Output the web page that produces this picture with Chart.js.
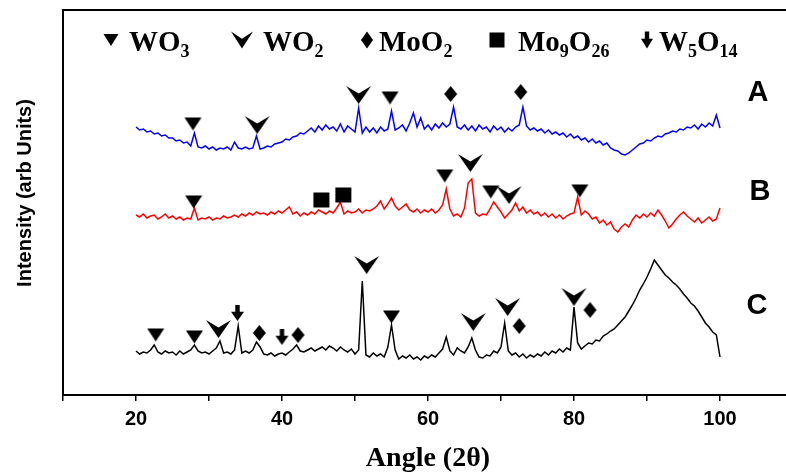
<!DOCTYPE html>
<html>
<head>
<meta charset="utf-8">
<script src="https://cdn.jsdelivr.net/npm/chart.js@4.4.1/dist/chart.umd.min.js"></script>
<style>
  html, body { margin: 0; padding: 0; background: #fff; overflow: hidden; }
  #wrap { width: 800px; height: 476px; }
</style>
</head>
<body>
<div id="wrap"><canvas id="xrd" width="800" height="476"></canvas></div>
<script>
// 2θ scan, 20..100 deg, 0.5 deg step
const angle = Array.from({ length: 161 }, (_, i) => 20 + i * 0.5);

// intensity (arb units), traces stacked A / B / C
const intensityA = [
  268, 265, 266, 263, 264, 261, 262, 259, 260, 257,
  257, 254, 255, 252, 253, 249, 262, 248, 247, 249,
  246, 248, 245, 247, 246, 248, 245, 253, 247, 246,
  248, 246, 247, 259, 246, 247, 249, 248, 251, 252,
  253, 256, 255, 258, 259, 262, 261, 264, 267, 263,
  269, 265, 270, 266, 268, 264, 271, 263, 269, 266,
  263, 287, 262, 268, 263, 267, 262, 268, 264, 266,
  284, 265, 267, 270, 264, 272, 282, 268, 277, 266,
  270, 265, 271, 267, 272, 268, 271, 288, 268, 266,
  270, 265, 269, 264, 270, 266, 268, 263, 269, 265,
  268, 263, 267, 264, 268, 270, 288, 269, 265, 267,
  264, 266, 262, 265, 261, 263, 260, 262, 258, 261,
  257, 259, 255, 257, 253, 256, 252, 254, 250, 252,
  247, 245, 244, 241, 240, 242, 245, 248, 251, 252,
  255, 254, 257, 259, 258, 261, 262, 264, 263, 266,
  265, 268, 267, 270, 266, 271, 268, 272, 269, 280,
  267
];
const intensityB = [
  180, 178, 181, 177, 179, 180, 176, 178, 181, 177,
  179, 176, 178, 175, 177, 176, 187, 175, 177, 176,
  178, 175, 177, 176, 179, 177, 178, 180, 178, 181,
  179, 182, 180, 183, 181, 182, 180, 183, 181, 184,
  182, 185, 188, 181, 183, 179, 182, 180, 183, 181,
  185, 183, 181, 184, 182, 187, 193, 181, 184, 182,
  183, 186, 182, 185, 184, 186, 189, 194, 186, 191,
  197, 189, 185, 188, 191, 185, 183, 186, 182, 185,
  183, 186, 182, 185, 190, 206, 186, 179, 181, 178,
  187, 212, 216, 182, 179, 181, 180, 186, 193, 188,
  183, 177, 181, 185, 192, 184, 188, 182, 185, 181,
  183, 179, 182, 178, 181, 177, 180, 176, 179, 181,
  182, 198, 180, 184, 181, 176, 178, 172, 175, 170,
  173, 166, 163, 168, 171, 168, 175, 180, 177, 181,
  178, 182, 179, 185, 180, 174, 167, 171, 176, 180,
  183, 179, 176, 173, 177, 172, 175, 178, 174, 176,
  187
];
const intensityC = [
  44, 41, 43, 42, 45, 50, 43, 41, 44, 42,
  43, 40, 44, 41, 43, 45, 50, 44, 42, 43,
  41, 44, 47, 54, 42, 43, 41, 45, 69, 42,
  44, 42, 45, 53, 48, 41, 40, 42, 39, 41,
  42, 40, 43, 46, 50, 44, 43, 45, 47, 44,
  46, 48, 45, 49, 47, 44, 48, 45, 43, 46,
  41, 45, 114, 40, 38, 42, 39, 41, 38, 48,
  70, 45, 36, 39, 37, 40, 36, 38, 35, 39,
  37, 40, 38, 42, 46, 58, 44, 40, 47, 44,
  42, 48, 57, 45, 38, 37, 40, 39, 44, 42,
  48, 72, 44, 40, 42, 38, 41, 37, 40, 38,
  41, 39, 43, 40, 44, 42, 46, 43, 47, 45,
  88, 52, 46, 49, 52, 51, 55, 54, 59, 61,
  64, 66, 70, 74, 78, 84, 90, 97, 105, 111,
  118, 126, 135, 130, 125, 120, 117, 113, 110, 106,
  101, 97, 92, 89, 84, 78, 72, 68, 63, 60,
  38
];

// phase markers: angle / height above the trace
const wo3Angle = [27.8, 54.8, 27.9, 62.3, 68.6, 80.8, 22.7, 28.0, 55.0];
const wo3Height = [271, 297, 193, 219, 203, 204, 60, 58, 78];
const wo2Angle = [36.6, 50.5, 65.8, 71.1, 31.3, 51.6, 66.2, 70.9, 80.0];
const wo2Height = [270, 300, 232, 200, 66, 130, 73, 88, 98];
const moo2Angle = [63.1, 72.7, 36.9, 42.2, 72.5, 82.2];
const moo2Height = [301, 303, 62, 60, 69, 85];
const mo9o26Angle = [45.4, 48.4];
const mo9o26Height = [195, 200];
const w5o14Angle = [33.9, 40.0];
const w5o14Height = [82, 58];

const sampleNames = ['A', 'B', 'C'];
const xTickLabels = [20, 40, 60, 80, 100];

// marker shapes
function shapeTri(g, cx, cy, w, h) {
  g.beginPath();
  g.moveTo(cx - w / 2, cy - h / 2);
  g.lineTo(cx + w / 2, cy - h / 2);
  g.lineTo(cx, cy + h / 2);
  g.closePath();
  g.fill();
}
function shapeChevron(g, cx, cy, w, h) {
  g.beginPath();
  g.moveTo(cx - w / 2, cy - h / 2);
  g.lineTo(cx, cy - h / 2 + h * 0.42);
  g.lineTo(cx + w / 2, cy - h / 2);
  g.lineTo(cx, cy + h / 2);
  g.closePath();
  g.fill();
}
function shapeDiamond(g, cx, cy, w, h) {
  g.beginPath();
  g.moveTo(cx, cy - h / 2);
  g.lineTo(cx + w / 2, cy);
  g.lineTo(cx, cy + h / 2);
  g.lineTo(cx - w / 2, cy);
  g.closePath();
  g.fill();
}
function shapeSquare(g, cx, cy, w, h) {
  g.fillRect(cx - w / 2, cy - h / 2, w, h);
}
function shapeArrow(g, cx, cy, w, h) {
  const top = cy - h / 2;
  g.fillRect(cx - 2.2, top, 4.4, h * 0.5);
  g.beginPath();
  g.moveTo(cx - w / 2, top + h * 0.42);
  g.lineTo(cx + w / 2, top + h * 0.42);
  g.lineTo(cx, top + h);
  g.closePath();
  g.fill();
}

function markerCanvas(w, h, shape) {
  const c = document.createElement('canvas');
  c.width = w + 2;
  c.height = h + 2;
  const g = c.getContext('2d');
  g.fillStyle = '#000';
  shape(g, c.width / 2, c.height / 2, w, h);
  return c;
}

const imgTri = markerCanvas(17, 13, shapeTri);
const imgChevron = markerCanvas(25, 18, shapeChevron);
const imgDiamond = markerCanvas(13, 16, shapeDiamond);
const imgSquare = markerCanvas(16, 15, shapeSquare);
const imgArrow = markerCanvas(13, 16, shapeArrow);

const pts = (xs, ys) => xs.map((x, i) => ({ x: x, y: ys[i] }));

function trace(label, ys, color) {
  return {
    type: 'line',
    label: label,
    data: pts(angle, ys),
    borderColor: color,
    borderWidth: 1.5,
    pointRadius: 0,
    fill: false,
    tension: 0
  };
}

function markers(label, xs, ys, img) {
  return {
    type: 'scatter',
    label: label,
    data: pts(xs, ys),
    pointStyle: img,
    pointRadius: 6,
    pointHoverRadius: 6
  };
}

const legendItems = [
  { shape: shapeTri, w: 15, h: 12, cx: 111, tx: 129, parts: [['WO', 0], ['3', 1]] },
  { shape: shapeChevron, w: 22, h: 17, cx: 242, tx: 263, parts: [['WO', 0], ['2', 1]] },
  { shape: shapeDiamond, w: 12, h: 17, cx: 367, tx: 379, parts: [['MoO', 0], ['2', 1]] },
  { shape: shapeSquare, w: 15, h: 15, cx: 497, tx: 518, parts: [['Mo', 0], ['9', 1], ['O', 0], ['26', 1]] },
  { shape: shapeArrow, w: 12, h: 17, cx: 647, tx: 659, parts: [['W', 0], ['5', 1], ['O', 0], ['14', 1]] }
];
const sampleLabelPos = [[758, 93], [760, 192], [757, 306]];

// frame, legend row, y title and sample letters
const decorPlugin = {
  id: 'decor',
  afterDraw(chart) {
    const { ctx, chartArea: a } = chart;
    ctx.save();
    ctx.strokeStyle = '#000';
    ctx.lineWidth = 2;
    ctx.beginPath();
    ctx.moveTo(a.right, a.top);
    ctx.lineTo(a.left, a.top);
    ctx.lineTo(a.left, a.bottom);
    ctx.lineTo(a.right, a.bottom);
    ctx.stroke();

    ctx.fillStyle = '#000';
    ctx.textBaseline = 'alphabetic';
    ctx.textAlign = 'left';
    const base = 51;
    legendItems.forEach(it => {
      it.shape(ctx, it.cx, 40, it.w, it.h);
      let x = it.tx;
      it.parts.forEach(([txt, sub]) => {
        ctx.font = sub ? 'bold 18px "Liberation Serif", "Times New Roman", serif'
                       : 'bold 29px "Liberation Serif", "Times New Roman", serif';
        ctx.fillText(txt, x, sub ? base + 6 : base);
        x += ctx.measureText(txt).width;
      });
    });

    ctx.font = 'bold 20px "Liberation Sans", Arial, sans-serif';
    ctx.textAlign = 'center';
    ctx.textBaseline = 'middle';
    ctx.save();
    ctx.translate(25, 193);
    ctx.rotate(-Math.PI / 2);
    ctx.fillText('Intensity (arb Units)', 0, 0);
    ctx.restore();

    ctx.font = 'bold 29px "Liberation Sans", Arial, sans-serif';
    sampleNames.forEach((s, i) => {
      ctx.fillText(s, sampleLabelPos[i][0], sampleLabelPos[i][1]);
    });
    ctx.restore();
  }
};

new Chart(document.getElementById('xrd'), {
  data: {
    datasets: [
      markers('WO3', wo3Angle, wo3Height, imgTri),
      markers('WO2', wo2Angle, wo2Height, imgChevron),
      markers('MoO2', moo2Angle, moo2Height, imgDiamond),
      markers('Mo9O26', mo9o26Angle, mo9o26Height, imgSquare),
      markers('W5O14', w5o14Angle, w5o14Height, imgArrow),
      trace('A', intensityA, '#0000ff'),
      trace('B', intensityB, '#ff0000'),
      trace('C', intensityC, '#000000')
    ]
  },
  options: {
    responsive: false,
    animation: false,
    layout: { padding: { top: 10, right: 3, left: 0, bottom: 0 } },
    plugins: {
      legend: { display: false },
      tooltip: { enabled: false }
    },
    scales: {
      x: {
        type: 'linear',
        min: 10,
        max: 110,
        ticks: {
          stepSize: 10,
          autoSkip: false,
          maxRotation: 0,
          padding: 6,
          color: '#000',
          font: { family: '"Liberation Sans", Arial, sans-serif', size: 20, weight: 'bold' },
          callback: v => xTickLabels.includes(v) ? String(v) : ''
        },
        grid: {
          display: true,
          drawOnChartArea: false,
          drawTicks: true,
          tickLength: 6,
          color: '#000',
          lineWidth: 1.5
        },
        border: { display: false },
        title: {
          display: true,
          text: 'Angle (2θ)',
          color: '#000',
          font: { family: '"Liberation Serif", "Times New Roman", serif', size: 28, weight: 'bold' },
          padding: { top: 0, bottom: 0 }
        },
        afterFit: s => { s.height = 81; }
      },
      y: {
        min: 0,
        max: 385,
        ticks: { display: false },
        grid: { display: false },
        border: { display: false },
        afterFit: s => { s.width = 63; }
      }
    }
  },
  plugins: [decorPlugin]
});
</script>
</body>
</html>
